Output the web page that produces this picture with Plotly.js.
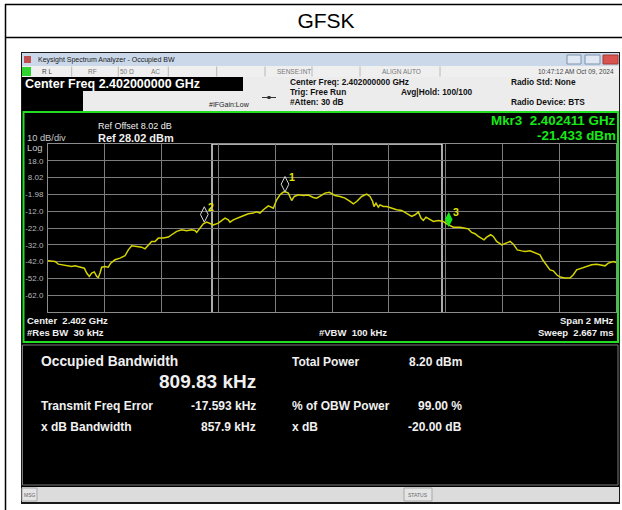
<!DOCTYPE html>
<html><head><meta charset="utf-8">
<script src="https://cdn.plot.ly/plotly-3.0.1.min.js"></script>
<style>html,body{margin:0;padding:0;background:#fff;overflow:hidden}#chart{width:622px;height:510px}</style>
</head><body><div id="chart"></div>
<script>
// ---------------- data ----------------
const traceFreqGHz = [
2.4010000,2.4010246,2.4010364,2.4010482,2.4010658,2.4010834,2.4010951,2.4011127,2.4011279,2.4011362,
2.4011455,2.4011538,2.4011630,2.4011714,2.4011772,2.4011831,2.4011890,2.4012007,2.4012124,2.4012207,
2.4012359,2.4012535,2.4012711,2.4012829,2.4012946,2.4013122,2.4013298,2.4013415,2.4013533,2.4013650,
2.4013768,2.4013885,2.4014061,2.4014237,2.4014355,2.4014531,2.4014707,2.4014883,2.4015059,2.4015176,
2.4015235,2.4015352,2.4015469,2.4015587,2.4015704,2.4015821,2.4015997,2.4016115,2.4016232,2.4016349,
2.4016408,2.4016525,2.4016701,2.4016877,2.4017053,2.4017229,2.4017347,2.4017465,2.4017582,2.4017758,
2.4017934,2.4018052,2.4018169,2.4018286,2.4018380,2.4018462,2.4018580,2.4018673,2.4018814,2.4018990,
2.4019166,2.4019342,2.4019460,2.4019577,2.4019754,2.4019905,
2.4020106,2.4020282,2.4020458,2.4020634,2.4020752,2.4020869,2.4021045,2.4021221,2.4021338,2.4021432,
2.4021479,2.4021549,2.4021631,2.4021690,2.4021808,2.4021925,2.4022101,2.4022277,2.4022453,2.4022629,
2.4022805,2.4022923,2.4023040,2.4023134,2.4023216,2.4023310,2.4023427,2.4023568,2.4023744,2.4023920,
2.4024038,2.4024155,2.4024272,2.4024390,2.4024507,2.4024683,2.4024800,2.4024918,2.4025035,2.4025153,
2.4025270,2.4025352,2.4025446,2.4025587,2.4025681,2.4025798,2.4025974,2.4026150,2.4026268,2.4026385,
2.4026526,2.4026679,2.4026796,2.4026972,2.4027148,2.4027324,2.4027418,2.4027559,2.4027676,2.4027793,
2.4027911,2.4028028,2.4028204,2.4028380,2.4028498,2.4028615,2.4028791,2.4028967,2.4029143,2.4029320,
2.4029496,2.4029613,2.4029730,2.4029906,2.4030000
];
const traceLevelDbm = [
-41.5,-41.9,-43.5,-43.9,-44.3,-44.9,-44.5,-45.3,-45.9,-48.8,
-50.8,-48.8,-48.1,-50.8,-51.4,-48.8,-45.3,-44.9,-45.3,-42.9,
-40.9,-39.9,-38.5,-35.0,-32.6,-33.0,-33.4,-34.4,-32.0,-30.0,
-30.0,-28.0,-28.0,-27.4,-26.0,-24.0,-23.1,-23.6,-23.1,-23.5,
-24.6,-22.1,-19.5,-18.5,-19.5,-20.1,-19.1,-17.7,-16.1,-17.1,
-18.5,-17.1,-15.7,-14.7,-13.5,-13.1,-12.3,-13.1,-11.1,-8.8,
-10.2,-5.2,-2.2,-0.6,-0.6,-1.2,-5.6,-3.2,-2.2,-2.6,
-2.4,-3.8,-4.2,-2.8,-1.2,-0.7,
-2.6,-3.2,-4.2,-6.2,-7.6,-6.2,-3.2,-1.8,-3.2,-6.2,
-9.2,-7.2,-9.6,-8.2,-9.2,-9.2,-10.2,-11.1,-11.5,-13.5,
-15.1,-14.1,-12.5,-16.1,-17.5,-15.5,-16.7,-18.1,-17.5,-18.1,
-19.5,-20.7,-21.5,-21.5,-21.5,-22.1,-22.5,-24.6,-25.4,-27.0,
-28.0,-29.0,-27.4,-26.0,-27.0,-30.0,-32.0,-30.6,-30.0,-31.6,
-35.0,-35.6,-36.0,-35.6,-37.0,-38.0,-40.9,-43.9,-46.9,-47.5,
-49.8,-51.2,-51.8,-51.8,-49.8,-46.9,-45.9,-44.9,-43.9,-43.5,
-43.9,-44.5,-42.9,-41.9,-42.5
];
const markerNames = ['1','2','3'];
const markerFreqGHz = [2.4018345, 2.4015504, 2.402411];
const markerLevelDbm = [-0.5, -18.5, -21.433];
const yTickVals = [18.02, 8.02, -1.98, -11.98, -21.98, -31.98, -41.98, -51.98, -61.98];
const yTickText = ['18.0','8.02','-1.98','-12.0','-22.0','-32.0','-42.0','-52.0','-62.0'];
const refLevelDbm = 28.02, dbPerDiv = 10, numDivs = 10;
const centerGHz = 2.402, spanMHz = 2;
const obwKHz = 809.83, txFreqErrKHz = -17.593;

// ---------------- layout helpers ----------------
const FONT = '"Liberation Sans", Arial, sans-serif';
const W = 622, H = 510, PL = 48, PR = 616, PT = 144, PB = 312;
const px = x => (x - PL) / (PR - PL);
const py = y => (PB - y) / (PB - PT);
const shapes = [], ann = [];
function rect(x0, y0, x1, y1, fill, lineColor, lw) {
  shapes.push({type:'rect', xref:'paper', yref:'paper', x0:px(x0), x1:px(x1), y0:py(y1), y1:py(y0),
    fillcolor: fill || 'rgba(0,0,0,0)', line:{color: lineColor || 'rgba(0,0,0,0)', width: lw || 0}, layer:'below'});
}
function line(x0, y0, x1, y1, color, lw) {
  shapes.push({type:'line', xref:'paper', yref:'paper', x0:px(x0), x1:px(x1), y0:py(y0), y1:py(y1),
    line:{color, width: lw || 1}, layer:'below'});
}
function txt(x, y, text, size, color, anchor, bold) {
  ann.push({xref:'paper', yref:'paper', x:px(x), y:py(y), text: bold ? '<b>' + text + '</b>' : text,
    showarrow:false, xanchor: anchor || 'left', yanchor:'middle', borderpad:0,
    font:{family: FONT, size, color}});
}
const S = '\u00a0';

// Document table lines
line(5.5, 4, 5.5, 510, '#000', 1.5);
line(5, 4.5, 622, 4.5, '#000', 1.5);
line(5, 37.5, 622, 37.5, '#000', 1.5);

// Screenshot window
rect(21, 52, 620, 504, '#1a1a1a');
rect(22, 53, 619, 66, '#cad8e9');
rect(24, 56, 31, 63, '#c0504d');
txt(37, 60, 'Keysight Spectrum Analyzer - Occupied BW', 7, '#1a1a1a', 'left', false);
rect(567, 55, 581, 64, '#dfe8f3', '#7f93ab', 1);
rect(585, 55, 600, 64, '#dfe8f3', '#7f93ab', 1);
rect(603, 55, 618, 64, '#d9534f', '#a33a33', 1);
// status row
rect(22, 66, 619, 77, '#efefef');
[71.7, 118.3, 168.3, 216.7, 265, 312, 360, 440].forEach(x => line(x, 66.5, x, 76.5, '#b8b8b8', 1));
rect(22, 67, 31, 76, '#2fd22f');
txt(41, 71.5, 'R L', 6.5, '#444', 'left');
txt(92.7, 71.5, 'RF', 6.5, '#777', 'center');
txt(127, 71.5, '50 Ω', 6.5, '#777', 'center');
txt(155, 71.5, 'AC', 6.5, '#777', 'center');
txt(294, 71.5, 'SENSE:INT', 6.5, '#777', 'center');
txt(401.7, 71.5, 'ALIGN AUTO', 6.5, '#777', 'center');
txt(615, 71.5, '10:47:12 AM Oct 09, 2024', 6.5, '#444', 'right');
// settings panel
rect(22, 77, 619, 111, '#ececec');
rect(22, 77, 243, 91, '#000');
rect(22, 91, 83, 111, '#000');
txt(23.5, 84, 'Center Freq 2.402000000 GHz', 12.5, '#fff', 'left', true);
txt(289, 82.3, 'Center Freq: 2.402000000 GHz', 8.3, '#111', 'left', true);
txt(289, 92, 'Trig: Free Run', 8.3, '#111', 'left', true);
txt(289, 101.7, '#Atten: 30 dB', 8.3, '#111', 'left', true);
txt(400, 92, 'Avg|Hold: 100/100', 8.3, '#111', 'left', true);
txt(510, 82.3, 'Radio Std: None', 8.3, '#111', 'left', true);
txt(510, 102.3, 'Radio Device: BTS', 8.3, '#111', 'left', true);
txt(208, 104.5, '#IFGain:Low', 7, '#222', 'left', false);
line(262, 97.5, 276, 97.5, '#333', 1);
rect(267.5, 96, 270.5, 99, '#333');

// Graph area
rect(22, 111, 619, 487, '#000');
rect(23.5, 112, 618, 342, null, '#22dd22', 2);
txt(26, 138, '10 dB/div', 9.3, '#c8c8c8', 'left');
txt(26, 148, 'Log', 9.3, '#c8c8c8', 'left');
txt(96.5, 126.3, 'Ref Offset 8.02 dB', 9, '#f0f0f0', 'left');
txt(96.5, 137.8, 'Ref 28.02 dBm', 11, '#f0f0f0', 'left', true);
txt(617, 120.3, 'Mkr3' + S + S + '2.402411 GHz', 13.4, '#18e818', 'right', true);
txt(617, 135.4, '-21.433 dBm', 13.4, '#18e818', 'right', true);
txt(26, 320, 'Center' + S + S + '2.402 GHz', 9.5, '#f0f0f0', 'left', true);
txt(26, 332.5, '#Res BW' + S + S + '30 kHz', 9.5, '#f0f0f0', 'left', true);
txt(352.5, 332.5, '#VBW' + S + S + '100 kHz', 9.5, '#f0f0f0', 'center', true);
txt(615, 320, 'Span 2 MHz', 9.5, '#f0f0f0', 'right', true);
txt(615, 332.5, 'Sweep' + S + S + '2.667 ms', 9.5, '#f0f0f0', 'right', true);

// Measurement panel
rect(22.5, 345, 618, 485, null, '#7a7a7a', 1);
txt(40, 361.7, 'Occupied Bandwidth', 13.8, '#f0f0f0', 'left', true);
txt(257, 381.7, obwKHz.toFixed(2) + ' kHz', 19, '#f0f0f0', 'right', true);
txt(40, 406, 'Transmit Freq Error', 12, '#f0f0f0', 'left', true);
txt(257, 406, txFreqErrKHz.toFixed(3) + ' kHz', 12, '#f0f0f0', 'right', true);
txt(40, 427, 'x dB Bandwidth', 12, '#f0f0f0', 'left', true);
txt(257, 427, '857.9 kHz', 12, '#f0f0f0', 'right', true);
txt(291, 361.7, 'Total Power', 12, '#f0f0f0', 'left', true);
txt(462.5, 361.7, '8.20 dBm', 12, '#f0f0f0', 'right', true);
txt(291, 406, '% of OBW Power', 12, '#f0f0f0', 'left', true);
txt(462.5, 406, '99.00 %', 12, '#f0f0f0', 'right', true);
txt(291, 427, 'x dB', 12, '#f0f0f0', 'left', true);
txt(462.5, 427, '-20.00 dB', 12, '#f0f0f0', 'right', true);

// Status bar
rect(22, 487, 619, 502, '#dcdcdc');
rect(22, 488, 37, 501, '#e4e4e4', '#a8a8a8', 1);
txt(29.5, 494.5, 'MSG', 5, '#666', 'center');
rect(404, 488, 432, 501, '#e4e4e4', '#a8a8a8', 1);
txt(418, 494.5, 'STATUS', 5, '#666', 'center');

// OBW bracket (data coordinates)
const obwL = centerGHz + (txFreqErrKHz - obwKHz / 2) / 1e6;
const obwR = centerGHz + (txFreqErrKHz + obwKHz / 2) / 1e6;
[obwL, obwR].forEach(f => shapes.push({type:'line', xref:'x', yref:'paper', x0:f, x1:f, y0:0, y1:1,
  line:{color:'#e4e4e4', width:1.5}, layer:'between'}));
shapes.push({type:'line', xref:'x', yref:'paper', x0:obwL, x1:obwR, y0:1, y1:1,
  line:{color:'#e4e4e4', width:1.5}, layer:'between'});

// marker glyphs sit above the marked point
const yBot = refLevelDbm - dbPerDiv * numDivs;
const pxPerDb = (PB - PT) / (refLevelDbm - yBot);
const mSize = 11;
const mY = markerLevelDbm.map(v => v + 0.7 * mSize / pxPerDb);
markerNames.forEach((n, i) => ann.push({xref:'x', yref:'y', x:markerFreqGHz[i], y:markerLevelDbm[i],
  text:'<b>' + n + '</b>', showarrow:false, xshift:7, yshift:15, borderpad:0,
  font:{family:FONT, size:10.5, color:'#e6e600'}}));

const traces = [
  {x: traceFreqGHz, y: traceLevelDbm, type:'scatter', mode:'lines',
   line:{color:'#d4d400', width:1.5}, hoverinfo:'skip', showlegend:false},
  {x: markerFreqGHz.slice(0, 2), y: mY.slice(0, 2), type:'scatter', mode:'markers',
   marker:{symbol:'diamond-tall-open', size:mSize, color:'#d8d8d8', line:{width:1}}, hoverinfo:'skip', showlegend:false},
  {x: markerFreqGHz.slice(2), y: mY.slice(2), type:'scatter', mode:'markers',
   marker:{symbol:'diamond-tall', size:mSize, color:'#18e818', line:{width:0}}, hoverinfo:'skip', showlegend:false}
];

const layout = {
  width: W, height: H,
  margin: {l: PL, r: W - PR, t: PT, b: H - PB, pad: 0},
  paper_bgcolor: '#ffffff', plot_bgcolor: '#000000',
  showlegend: false,
  title: {text: 'GFSK', font: {family: FONT, size: 21, color: '#000'},
          x: 326 / W, xanchor: 'center', xref: 'container', y: 1 - 21 / H, yanchor: 'middle', yref: 'container'},
  xaxis: {range: [centerGHz - spanMHz / 2000, centerGHz + spanMHz / 2000], tickmode: 'linear',
          tick0: centerGHz - spanMHz / 2000, dtick: spanMHz / 10000, showticklabels: false, ticks: '',
          showgrid: true, gridcolor: '#7c7c7c', gridwidth: 1, zeroline: false,
          showline: true, mirror: true, linecolor: '#8c8c8c', linewidth: 1, automargin: false, fixedrange: true},
  yaxis: {range: [yBot, refLevelDbm], tickmode: 'array', tickvals: yTickVals, ticktext: yTickText,
          tickfont: {family: FONT, size: 8, color: '#b8b8b8'}, ticks: '', ticklabelstandoff: 2,
          showgrid: true, gridcolor: '#7c7c7c', gridwidth: 1, zeroline: false,
          showline: true, mirror: true, linecolor: '#8c8c8c', linewidth: 1, automargin: false, fixedrange: true},
  shapes: shapes,
  annotations: ann
};
Plotly.newPlot('chart', traces, layout, {displayModeBar: false, staticPlot: true});
</script></body></html>
